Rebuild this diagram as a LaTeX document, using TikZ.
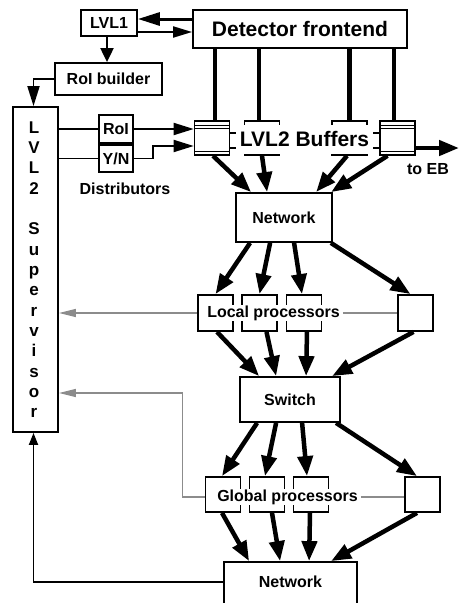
\documentclass[tikz,border=0pt]{standalone}
\usepackage{fontspec}
\setmainfont{Liberation Sans}
\usetikzlibrary{arrows.meta,calc}
\begin{document}
\begin{tikzpicture}[x=1pt,y=-1pt,
  font=\bfseries\fontsize{16}{18}\selectfont,
  box/.style={draw, line width=1.8pt, inner sep=0pt, fill=white},
  bigfont/.style={font=\bfseries\fontsize{21}{24}\selectfont},
  buffer/.style={box, line width=1.6pt, minimum width=35pt, minimum height=34pt,
    path picture={
      \draw[line width=0.9pt]
        ([yshift=-4pt]path picture bounding box.north west) -- ([yshift=-4pt]path picture bounding box.north east)
        ([yshift=-7pt]path picture bounding box.north west) -- ([yshift=-7pt]path picture bounding box.north east)
        ([yshift=3.5pt]path picture bounding box.south west) -- ([yshift=3.5pt]path picture bounding box.south east);
    }},
  proc/.style={box, minimum width=35pt, minimum height=36pt},
  tag/.style={fill=white, inner xsep=3pt, inner ysep=1pt},
  heavy/.style={line width=4.5pt, -{Triangle[length=20pt,width=15pt]}},
  feed/.style={line width=4.5pt},
  link/.style={line width=1.8pt},
  linkarrow/.style={line width=1.8pt, -{Triangle[length=20pt,width=12pt]}},
  graylink/.style={draw=black!45, line width=1.5pt, -{Triangle[length=17pt,width=8pt]}}
]
\useasboundingbox (0,0) rectangle (459,603);
\clip (0,0) rectangle (459,603);

% --- trigger front end -------------------------------------------------
\node[box, minimum width=56pt, minimum height=26pt] (lvl1) at (109,23) {LVL1};
\node[box, bigfont, minimum width=214pt, minimum height=38pt] (det) at (300,29) {Detector frontend};
\node[box, minimum width=107pt, minimum height=32pt] (rb) at (108.5,79) {RoI builder};

\draw[line width=3pt, -{Triangle[length=22pt,width=13pt]}]
  ([yshift=4pt]lvl1.east -| det.west) -- ([yshift=4pt]lvl1.east);
\draw[line width=2pt, -{Triangle[length=19pt,width=11pt]}]
  ([yshift=-9pt]lvl1.east) -- ([yshift=-9pt]lvl1.east -| det.west);
\draw[line width=2pt, -{Triangle[length=14pt,width=13pt]}]
  ([xshift=-2pt]lvl1.south) -- ([xshift=-2pt]lvl1.south |- rb.north);

% --- supervisor --------------------------------------------------------
\node[box, minimum width=45pt, minimum height=325pt] (sup) at (35.5,269.5) {};
\foreach \ch/\k in {L/0,V/1,L/2,2/3,S/5,u/6,p/7,e/8,r/9,v/10,i/11,s/12,o/13,r/14}
  \node[anchor=base, inner sep=0pt, font=\bfseries\fontsize{17}{19}\selectfont]
    (sv\k) at (34,{133+20.35*\k}) {\ch};

\draw[linkarrow] (rb.west) -| ([xshift=-2pt]sup.north);

% --- distributors ------------------------------------------------------
\node[box, minimum width=34pt, minimum height=28pt] (roi) at (116,129) {RoI};
\node[box, minimum width=34pt, minimum height=27pt] (yn) at (116,158.5) {Y/N};
\node (dist) at (125,189) {Distributors};

\draw[link] (roi.west -| sup.east) -- (roi.west);
\draw[link] (yn.west -| sup.east) -- (yn.west);

% --- LVL2 buffers ------------------------------------------------------
\node[buffer] (b1) at (212,138) {};
\node[buffer] (b2) at (262,138) {};
\node[buffer] (b3) at (349.5,138) {};
\node[buffer] (b4) at (397.5,138) {};

\draw[linkarrow] (roi.east) -- (roi.east -| b1.west);
\draw[linkarrow] (yn.east) -- ++(19,0) |- ([yshift=-8pt]b1.west);

\draw[link] ([yshift=5pt]b1.east) -- ([yshift=5pt]b4.west);
\draw[link] ([yshift=-10pt]b1.east) -- ([yshift=-10pt]b4.west);

\node[fill=white, inner sep=0pt, minimum width=137pt, minimum height=29pt, bigfont]
  (buflabel) at (304.5,139) {LVL2 Buffers};

\draw[feed] ([xshift=3pt]b1.north) -- ([xshift=3pt]b1.north |- det.south);
\draw[feed] ([xshift=-3pt]b2.north) -- ([xshift=-3pt]b2.north |- det.south);
\draw[feed] (b3.north) -- (b3.north |- det.south);
\draw[feed] ([xshift=-3.5pt]b4.north) -- ([xshift=-3.5pt]b4.north |- det.south);

\coordinate (eb) at (459,148);
\draw[heavy] ([yshift=-10pt]b4.east) -- (eb);
\node (toeb) at (428,169) {to EB};

% --- first network and local processors --------------------------------
\node[box, minimum width=96pt, minimum height=49pt] (net1) at (284,217.5) {Network};

\draw[heavy] ([xshift=1pt]b1.south) -- ([xshift=16pt]net1.north west);
\draw[heavy] (b2.south) -- ([xshift=32pt]net1.north west);
\draw[heavy] ([xshift=-2.5pt]b3.south) -- ([xshift=81pt]net1.north west);
\draw[heavy] ([xshift=-10pt]b4.south) -- ([xshift=96pt]net1.north west);

\node[proc] (lp1) at (215.5,313) {};
\node[proc] (lp2) at (259.5,313) {};
\node[proc] (lp3) at (304,313) {};
\node[proc] (lp4) at (415.5,313) {};
\node[tag] (lplabel) at (273.5,313) {Local processors};

\draw[heavy] ([xshift=15pt]net1.south west) -- (lp1.north);
\draw[heavy] ([xshift=35pt]net1.south west) -- (lp2.north);
\draw[heavy] ([xshift=59pt]net1.south west) -- ([xshift=-2pt]lp3.north);
\draw[heavy] ([xshift=-2pt]net1.south east) -- ([xshift=-5pt]lp4.north);

\draw[graylink] (lp1.west) -- (lp1.west -| sup.east);
\draw[draw=black!45, line width=1.5pt] (lplabel.east) -- (lp4.west);

% --- switch and global processors --------------------------------------
\node[box, minimum width=100pt, minimum height=45pt] (sw) at (290,399.5) {Switch};

\draw[heavy] ([xshift=1.5pt]lp1.south) -- ([xshift=20pt]sw.north west);
\draw[heavy] ([xshift=7pt]lp2.south) -- ([xshift=37pt]sw.north west);
\draw[heavy] ([xshift=3pt]lp3.south) -- ([xshift=67pt]sw.north west);
\draw[heavy] ([xshift=-2pt]lp4.south) -- ([xshift=93pt]sw.north west);

\node[proc, minimum height=35pt] (gp1) at (223,494.5) {};
\node[proc, minimum height=35pt] (gp2) at (267,494.5) {};
\node[proc, minimum height=35pt] (gp3) at (311,494.5) {};
\node[proc, minimum height=35pt] (gp4) at (422.5,494.5) {};
\node[tag] (gplabel) at (287.5,497) {Global processors};

\draw[heavy] ([xshift=18pt]sw.south west) -- ([xshift=-1pt]gp1.north);
\draw[heavy] ([xshift=37pt]sw.south west) -- ([xshift=-2pt]gp2.north);
\draw[heavy] ([xshift=63pt]sw.south west) -- ([xshift=-4pt]gp3.north);
\draw[heavy] ([xshift=97pt]sw.south west) -- ([xshift=-5.5pt]gp4.north);

\draw[graylink] ([yshift=-2.5pt]gp1.west) -- ++(-22,0) |- ([yshift=-123.5pt]sup.east);
\draw[draw=black!45, line width=1.5pt] (gplabel.east) -- (gplabel.east -| gp4.west);

% --- output network ----------------------------------------------------
\node[box, minimum width=133pt, minimum height=58pt] (net2) at (290.5,591) {};
\node (net2txt) at (290.5,582) {Network};

\draw[heavy] ([xshift=-1pt]gp1.south) -- ([xshift=26pt]net2.north west);
\draw[heavy] ([xshift=5pt]gp2.south) -- ([xshift=57pt]net2.north west);
\draw[heavy] ([xshift=-1pt]gp3.south) -- ([xshift=86pt]net2.north west);
\draw[heavy] ([xshift=-5.5pt]gp4.south) -- ([xshift=108pt]net2.north west);

\draw[line width=1.8pt, -{Triangle[length=12pt,width=9pt]}]
  (net2.west |- net2txt) -| ([xshift=-2pt]sup.south);
\end{tikzpicture}
\end{document}
